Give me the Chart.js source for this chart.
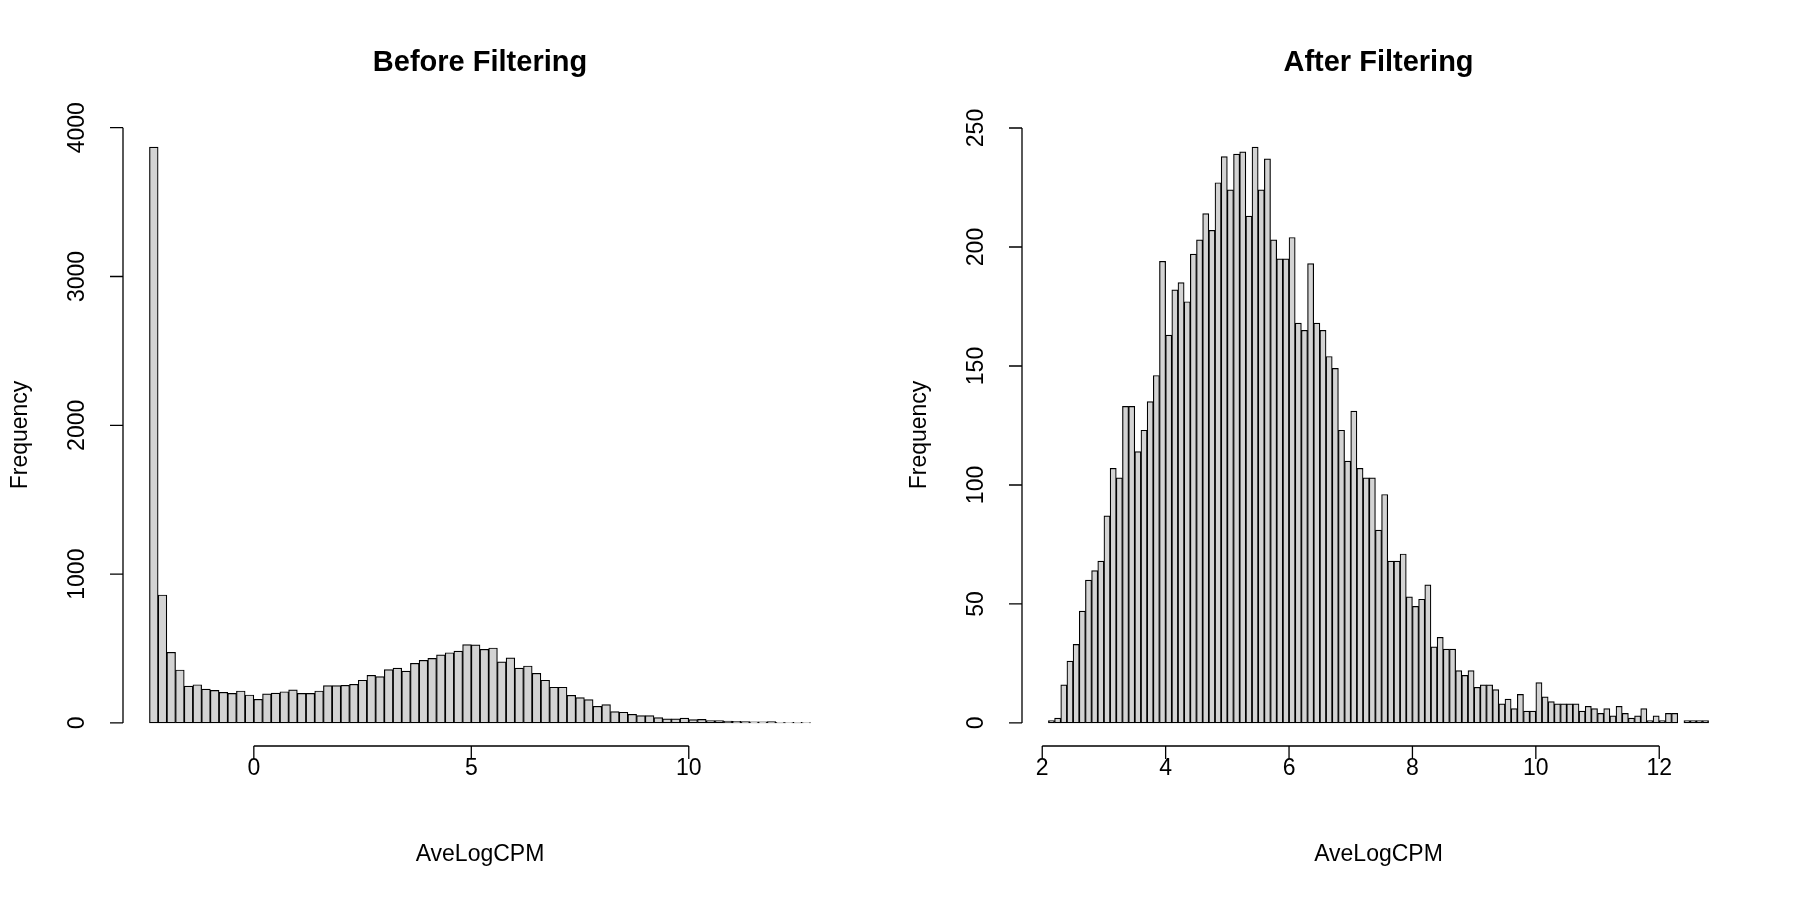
<!DOCTYPE html>
<html>
<head>
<meta charset="utf-8">
<script src="https://cdn.jsdelivr.net/npm/chart.js@4"></script>
<style>
  html, body { margin: 0; padding: 0; background: #fff; }
  #wrap { position: relative; width: 1800px; height: 900px; }
  canvas { position: absolute; left: 0; top: 0; }
</style>
</head>
<body>
<div id="wrap">
  <canvas id="before" width="1800" height="900"></canvas>
  <canvas id="after" width="1800" height="900"></canvas>
</div>
<script>
// Before filtering: bins of 0.2 starting at -2.4
const beforeStart = -2.4
const beforeWidth = 0.2
const beforeCounts = [3870, 860, 475, 356, 248, 257, 228, 219, 206, 199,
  215, 188, 159, 195, 201, 210, 222, 199, 199, 215,
  251, 251, 253, 260, 287, 320, 311, 358, 369, 349,
  401, 421, 434, 457, 472, 483, 526, 525, 495, 504,
  410, 437, 368, 383, 334, 287, 240, 240, 186, 170,
  157, 112, 123, 76, 72, 58, 49, 49, 36, 27,
  27, 32, 22, 24, 16, 16, 13, 11, 9, 7,
  7, 9, 4, 2, 5, 2]
const beforeXTicks = [0, 5, 10]
const beforeYTicks = [0, 1000, 2000, 3000, 4000]

// After filtering: bins of 0.1 starting at 2.1
const afterStart = 2.1
const afterWidth = 0.1
const afterCounts = [1, 2, 16, 26, 33, 47, 60, 64, 68, 87,
  107, 103, 133, 133, 114, 123, 135, 146, 194, 163,
  182, 185, 177, 197, 203, 214, 207, 227, 238, 224,
  239, 240, 213, 242, 224, 237, 203, 195, 195, 204,
  168, 165, 193, 168, 165, 154, 149, 123, 110, 131,
  107, 103, 103, 81, 96, 68, 68, 71, 53, 49,
  52, 58, 32, 36, 31, 31, 22, 20, 22, 15,
  16, 16, 14, 8, 10, 6, 12, 5, 5, 17,
  11, 9, 8, 8, 8, 8, 5, 7, 6, 4,
  6, 3, 7, 4, 2, 3, 6, 1, 3, 1,
  4, 4, 0, 1, 1, 1, 1]
const afterXTicks = [2, 4, 6, 8, 10, 12]
const afterYTicks = [0, 50, 100, 150, 200, 250]

const FONT = '"Liberation Sans", Arial, sans-serif'

// R-style axes: lines only between first and last tick, detached from the bars
const rAxes = {
  id: 'rAxes',
  afterDraw(chart, args, opts) {
    const ctx = chart.ctx
    const xs = chart.scales.x, ys = chart.scales.y
    const area = chart.chartArea
    ctx.save()
    ctx.strokeStyle = '#000'
    ctx.fillStyle = '#000'
    ctx.lineWidth = 1.3
    // x axis
    const xb = area.bottom
    const x0 = xs.getPixelForValue(opts.xTicks[0])
    const x1 = xs.getPixelForValue(opts.xTicks[opts.xTicks.length - 1])
    ctx.beginPath()
    ctx.moveTo(x0, xb); ctx.lineTo(x1, xb)
    opts.xTicks.forEach(t => {
      const p = xs.getPixelForValue(t)
      ctx.moveTo(p, xb); ctx.lineTo(p, xb + 13)
    })
    ctx.stroke()
    ctx.font = '23px ' + FONT
    ctx.textAlign = 'center'
    ctx.textBaseline = 'middle'
    opts.xTicks.forEach(t => ctx.fillText(String(t), xs.getPixelForValue(t), xb + 23))
    // y axis
    const yl = area.left
    const y0 = ys.getPixelForValue(opts.yTicks[0])
    const y1 = ys.getPixelForValue(opts.yTicks[opts.yTicks.length - 1])
    ctx.beginPath()
    ctx.moveTo(yl, y0); ctx.lineTo(yl, y1)
    opts.yTicks.forEach(t => {
      const p = ys.getPixelForValue(t)
      ctx.moveTo(yl, p); ctx.lineTo(yl - 13, p)
    })
    ctx.stroke()
    opts.yTicks.forEach(t => {
      ctx.save()
      ctx.translate(yl - 45, ys.getPixelForValue(t))
      ctx.rotate(-Math.PI / 2)
      ctx.fillText(String(t), 0, 0)
      ctx.restore()
    })
    // labels and title
    const cx = (area.left + area.right) / 2
    ctx.fillText('AveLogCPM', cx, 855)
    ctx.save()
    ctx.translate(yl - 102, (area.top + area.bottom) / 2)
    ctx.rotate(-Math.PI / 2)
    ctx.fillText('Frequency', 0, 0)
    ctx.restore()
    ctx.font = 'bold 29px ' + FONT
    ctx.fillText(opts.title, cx, 63)
    ctx.restore()
  }
}

function makeHist(id, start, width, counts, xTicks, yTicks, title, pad) {
  const n = counts.length
  const xmin = start, xmax = start + n * width
  const xext = (xmax - xmin) * 0.04
  const ymax = Math.max(...counts)
  const yext = ymax * 0.04
  const data = counts.map((c, i) => ({ x: start + (i + 0.5) * width, y: c }))
  return new Chart(document.getElementById(id), {
    type: 'bar',
    data: {
      datasets: [{
        data: data,
        backgroundColor: '#d3d3d3',
        borderColor: '#000',
        borderWidth: 1.2,
        barPercentage: 1,
        categoryPercentage: 1,
        borderSkipped: false
      }]
    },
    options: {
      responsive: false,
      animation: false,
      events: [],
      layout: { padding: pad },
      scales: {
        x: { type: 'linear', display: false, min: xmin - xext, max: xmax + xext, offset: false },
        y: { display: false, min: -yext, max: ymax + yext }
      },
      plugins: {
        legend: { display: false },
        tooltip: { enabled: false },
        rAxes: { xTicks: xTicks, yTicks: yTicks, title: title }
      }
    },
    plugins: [rAxes]
  })
}

makeHist('before', beforeStart, beforeWidth, beforeCounts, beforeXTicks, beforeYTicks,
  'Before Filtering', { left: 123, right: 963, top: 124, bottom: 154 })
makeHist('after', afterStart, afterWidth, afterCounts, afterXTicks, afterYTicks,
  'After Filtering', { left: 1022, right: 65, top: 124, bottom: 154 })
</script>
</body>
</html>
